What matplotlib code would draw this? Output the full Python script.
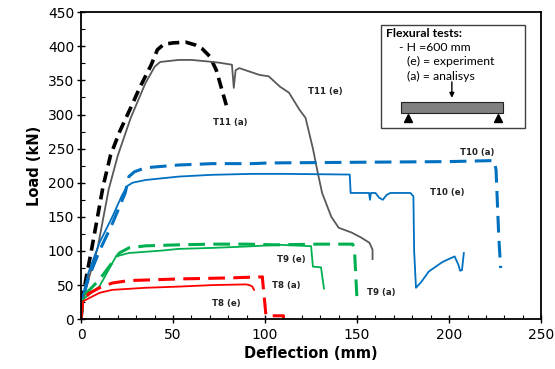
# Necessary packages
import matplotlib
matplotlib.use("Agg")
import matplotlib.pyplot as plt
from matplotlib.patches import Rectangle

# Load - deflection curves
# T11 (a) analysis (black dashed)
t11a_x = [0, 1, 6, 12, 16, 21, 27, 32, 38, 41.5, 45, 50, 57, 62, 66, 70, 73.5, 77, 79]
t11a_y = [0, 35, 106, 195, 240, 275, 310, 340, 372, 395, 403, 405, 406, 402, 396, 385, 365, 332, 313]

# T11 (e) experiment (gray solid)
t11e_x = [0, 1, 9, 15, 20, 27, 35, 40, 43, 53, 60, 68, 75, 82, 83, 84, 86, 91.5, 97, 102, 108, 113,
          118.7, 122, 126, 128.6, 131, 136, 140, 147, 152, 156.7, 158.4, 158.4]
t11e_y = [0, 30, 104, 190, 240, 295, 346, 370, 377, 380, 380, 378, 376, 373, 339, 365, 368, 363, 358, 356,
          341, 332, 307, 295, 250, 215, 185, 150, 134, 127, 120, 112, 102, 88]

# T10 (a) analysis (blue dashed)
t10a_x = [0, 1, 4, 10, 17, 24, 26, 29, 35, 53, 71.5, 93, 102, 150, 200, 224.5, 225.5, 227, 228]
t10a_y = [0, 30, 60, 100, 140, 185, 209, 216, 222, 226, 228, 228, 229, 230, 231, 232.5, 219, 120, 75]

# T10 (e) experiment (blue solid)
t10e_x = [0, 1, 4, 10, 17, 22, 25, 28, 35, 53, 71, 93, 110, 146, 146.5, 156.5, 157, 157.5, 160,
          162, 164, 166, 168, 179, 180.6, 181, 182, 185, 189, 196.5, 203, 205, 206, 207, 208]
t10e_y = [0, 35, 68, 112, 150, 180, 195, 200, 204, 209, 211.6, 213, 213, 212, 185, 185, 175, 185, 185,
          178, 175, 182, 185, 185, 180, 100, 46, 55, 70, 84, 92, 80, 71, 72, 97]

# T9 (a) analysis (green dashed)
t9a_x = [0, 1, 10, 20.8, 26, 35, 53, 71.5, 90, 106, 129.5, 147.6, 148.6, 150]
t9a_y = [0, 33, 58, 97, 104.5, 107.5, 109, 110, 110, 109, 110, 110, 101, 26]

# T9 (e) experiment (green solid)
t9e_x = [0, 1, 10, 19, 26, 44, 53, 71.5, 89.7, 108, 125, 126, 130.4, 132]
t9e_y = [0, 29, 48, 92, 97, 100.6, 103, 104.5, 106.5, 109, 107, 77, 76, 45]

# T8 (a) analysis (red dashed)
t8a_x = [0, 1, 4.5, 10, 17, 26, 53.4, 80.6, 93, 98.6, 98.6, 100.5, 106, 110, 110]
t8a_y = [0, 28, 38, 46, 53, 56.6, 59, 60.5, 61.6, 62, 59, 5, 5, 5, 2]

# T8 (e) experiment (red solid)
t8e_x = [0, 1, 4.5, 10, 17, 35, 53.4, 71.5, 89.7, 91.5, 93, 94]
t8e_y = [0, 26, 31, 38.6, 43, 46, 47.8, 50, 51, 50, 48, 43]

# Curve labels and where they sit (data coordinates)
labels = ["T11 (a)", "T11 (e)", "T10 (a)", "T10 (e)", "T9 (e)", "T8 (a)", "T9 (a)", "T8 (e)"]
label_x = [81, 133, 215.5, 199, 114.5, 111.5, 163, 79]
label_y = [288, 334, 244, 185, 87, 49, 38.5, 23.5]

# Colours
black = "#000000"
gray = "#595959"
blue = "#0070C0"
green = "#00B050"
red = "#FF0000"

plt.rcParams['lines.scale_dashes'] = False
plt.rcParams['font.family'] = ['DejaVu Sans']

fig = plt.figure(figsize=(5.55, 3.69), dpi=100)
ax = fig.add_axes([0.146, 0.135, 0.829, 0.832])

dash = (0, (12, 6))
dash_black = (0, (8, 4.5))

# Analysis curves (dashed) and experiment curves (solid)
ax.plot(t11a_x, t11a_y, color=black, lw=2.6, linestyle=dash_black)
ax.plot(t11e_x, t11e_y, color=gray, lw=1.3)
ax.plot(t10a_x, t10a_y, color=blue, lw=2.2, linestyle=dash)
ax.plot(t10e_x, t10e_y, color=blue, lw=1.3)
ax.plot(t9a_x, t9a_y, color=green, lw=2.2, linestyle=dash)
ax.plot(t9e_x, t9e_y, color=green, lw=1.3)
ax.plot(t8a_x, t8a_y, color=red, lw=2.2, linestyle=dash)
ax.plot(t8e_x, t8e_y, color=red, lw=1.3)

# Curve labels
for text, x, y in zip(labels, label_x, label_y):
    ax.text(x, y, text, ha='center', va='center', fontsize=6.2, fontweight='bold',
            color='#222222')

# Axes limits and ticks
ax.set_xlim(0, 250)
ax.set_ylim(0, 450)
ax.set_xticks(range(0, 251, 50))
ax.set_yticks(range(0, 451, 50))
ax.set_xticks(range(0, 251, 10), minor=True)
ax.set_yticks(range(0, 451, 25), minor=True)
ax.tick_params(axis='both', which='major', direction='inout', length=6, width=1, labelsize=10)
ax.tick_params(axis='both', which='minor', direction='in', length=3, width=0.8)
ax.tick_params(axis='y', which='major', pad=2)

for spine in ax.spines.values():
    spine.set_linewidth(1.3)

ax.set_xlabel("Deflection (mm)", fontsize=10.5, fontweight='bold', labelpad=3)
ax.set_ylabel("Load (kN)", fontsize=10.5, fontweight='bold', labelpad=4)

# Info box in the upper right corner
box = Rectangle((0.651, 0.624), 0.313, 0.335, transform=ax.transAxes,
                facecolor='white', edgecolor='#404040', lw=1.0, zorder=5)
ax.add_patch(box)
ax.text(0.663, 0.932, "Flexural tests:", transform=ax.transAxes, fontsize=8.8,
        fontweight='bold', va='center', family=['Lato'], zorder=6)
ax.text(0.692, 0.886, "- H =600 mm", transform=ax.transAxes, fontsize=8.8,
        va='center', family=['Lato'], zorder=6)
ax.text(0.709, 0.839, "(e) = experiment", transform=ax.transAxes, fontsize=8.8,
        va='center', family=['Lato'], zorder=6)
ax.text(0.709, 0.792, "(a) = analisys", transform=ax.transAxes, fontsize=8.8,
        va='center', family=['Lato'], zorder=6)

# Beam sketch: load arrow, beam and two supports
ax.annotate('', xy=(0.806, 0.712), xytext=(0.806, 0.782), xycoords='axes fraction',
            arrowprops=dict(arrowstyle='-|>', color='k', lw=1.0, mutation_scale=7),
            zorder=6)
beam = Rectangle((0.696, 0.671), 0.221, 0.036, transform=ax.transAxes,
                 facecolor='#808080', edgecolor='#222222', lw=0.8, zorder=6)
ax.add_patch(beam)
ax.plot([0.710, 0.906], [0.656, 0.656], '^', color='k', ms=6,
        transform=ax.transAxes, zorder=7, clip_on=False)

fig.savefig("out.png", dpi=100)
